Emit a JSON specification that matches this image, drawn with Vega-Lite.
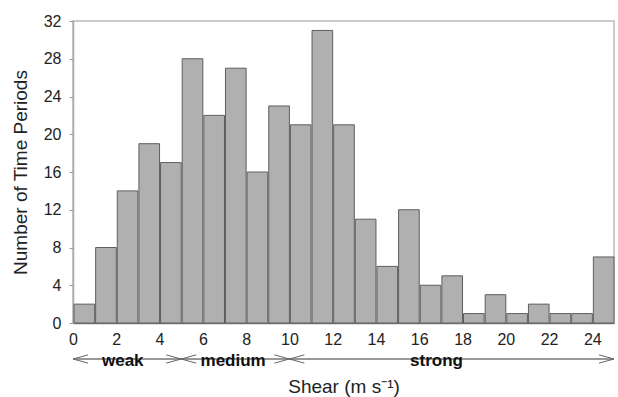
{
  "$schema": "https://vega.github.io/schema/vega-lite/v6.json",
  "padding": {"left": 10, "top": 12, "right": 2, "bottom": 2},
  "background": "white",
  "spacing": 0,
  "config": {
    "font": "Liberation Sans",
    "axis": {"labelFont": "Liberation Sans", "titleFont": "Liberation Sans", "labelColor": "#222", "titleColor": "#222", "grid": false, "titleFontWeight": "normal"},
    "view": {"stroke": "#bbb", "strokeWidth": 1.5}
  },
  "vconcat": [
    {
      "width": 541,
      "height": 302,
      "data": {"values": [
        {"start": 0, "end": 1, "count": 2},
        {"start": 1, "end": 2, "count": 8},
        {"start": 2, "end": 3, "count": 14},
        {"start": 3, "end": 4, "count": 19},
        {"start": 4, "end": 5, "count": 17},
        {"start": 5, "end": 6, "count": 28},
        {"start": 6, "end": 7, "count": 22},
        {"start": 7, "end": 8, "count": 27},
        {"start": 8, "end": 9, "count": 16},
        {"start": 9, "end": 10, "count": 23},
        {"start": 10, "end": 11, "count": 21},
        {"start": 11, "end": 12, "count": 31},
        {"start": 12, "end": 13, "count": 21},
        {"start": 13, "end": 14, "count": 11},
        {"start": 14, "end": 15, "count": 6},
        {"start": 15, "end": 16, "count": 12},
        {"start": 16, "end": 17, "count": 4},
        {"start": 17, "end": 18, "count": 5},
        {"start": 18, "end": 19, "count": 1},
        {"start": 19, "end": 20, "count": 3},
        {"start": 20, "end": 21, "count": 1},
        {"start": 21, "end": 22, "count": 2},
        {"start": 22, "end": 23, "count": 1},
        {"start": 23, "end": 24, "count": 1},
        {"start": 24, "end": 25, "count": 7}
      ]},
      "mark": {"type": "bar", "fill": "#b0b0b0", "stroke": "#5e5e5e", "strokeWidth": 1},
      "encoding": {
        "x": {"field": "start", "type": "quantitative", "bin": {"binned": true, "step": 1}, "scale": {"domain": [0, 25], "nice": false},
          "axis": {"title": null, "values": [0, 2, 4, 6, 8, 10, 12, 14, 16, 18, 20, 22, 24], "ticks": false, "tickSize": 0, "labelPadding": 8, "labelFontSize": 16, "domainColor": "#777", "domainWidth": 1.5, "labelFlush": false}},
        "x2": {"field": "end"},
        "y": {"field": "count", "type": "quantitative", "scale": {"domain": [0, 32], "nice": false},
          "axis": {"title": "Number of Time Periods", "values": [0, 4, 8, 12, 16, 20, 24, 28, 32], "tickSize": 4, "tickColor": "#999", "labelPadding": 8, "labelFontSize": 16, "titleFontSize": 19, "titlePadding": 13, "domainColor": "#aaa", "domainWidth": 1.5}}
      }
    },
    {
      "width": 541,
      "height": 22,
      "view": {"stroke": null},
      "layer": [
        {
          "data": {"values": [{"from": 0, "to": 25, "level": 0.5}]},
          "mark": {"type": "rule", "color": "#333", "strokeWidth": 1},
          "encoding": {
            "x": {"field": "from", "type": "quantitative", "scale": {"domain": [0, 25], "nice": false},
              "axis": {"title": "Shear (m s⁻¹)", "labels": false, "ticks": false, "domain": false, "titleFontSize": 19, "titlePadding": 7}},
            "x2": {"field": "to"},
            "y": {"field": "level", "type": "quantitative", "scale": {"domain": [0, 1]}, "axis": null}
          }
        },
        {
          "data": {"values": [
            {"pos": 0, "dir": "left", "level": 0.5},
            {"pos": 5, "dir": "right", "level": 0.5},
            {"pos": 5, "dir": "left", "level": 0.5},
            {"pos": 10, "dir": "right", "level": 0.5},
            {"pos": 10, "dir": "left", "level": 0.5},
            {"pos": 25, "dir": "right", "level": 0.5}
          ]},
          "mark": {"type": "point", "filled": false, "stroke": "#666", "strokeWidth": 1, "size": 225, "opacity": 1},
          "encoding": {
            "x": {"field": "pos", "type": "quantitative"},
            "y": {"field": "level", "type": "quantitative"},
            "shape": {"field": "dir", "type": "nominal", "legend": null,
              "scale": {"domain": ["left", "right"], "range": ["M2,-0.55L0,0L2,0.55", "M-2,-0.55L0,0L-2,0.55"]}}
          }
        },
        {
          "data": {"values": [
            {"pos": 2.3, "label": "weak", "level": 0.5},
            {"pos": 7.4, "label": "medium", "level": 0.5},
            {"pos": 16.8, "label": "strong", "level": 0.5}
          ]},
          "mark": {"type": "text", "font": "Liberation Sans", "fontWeight": "bold", "fontSize": 17, "color": "#111", "baseline": "alphabetic", "dy": 7},
          "encoding": {
            "x": {"field": "pos", "type": "quantitative"},
            "y": {"field": "level", "type": "quantitative"},
            "text": {"field": "label"}
          }
        }
      ]
    }
  ]
}
